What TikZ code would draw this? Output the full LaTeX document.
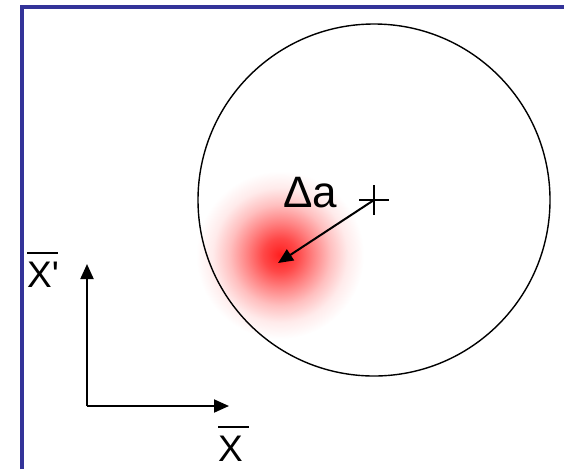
\documentclass[tikz,border=0pt]{standalone}
\usepackage{fontspec}
\setmainfont{Liberation Sans}
\usetikzlibrary{arrows.meta, positioning, calc}
\definecolor{framecol}{RGB}{51,51,153}
\pgfdeclareradialshading{redspot}{\pgfpoint{0bp}{0bp}}{color(0bp)=(red!88); color(5bp)=(red!72); color(10bp)=(red!48); color(15bp)=(red!25); color(20bp)=(red!8); color(25bp)=(white); color(50bp)=(white)}
\newcommand{\barX}{\leavevmode\rlap{\rule[0.9em]{0.84em}{1.6pt}}X}

\begin{document}
\begin{tikzpicture}[x=1pt, y=-1pt, >={Triangle[length=15pt, width=13pt]}, lab/.style={inner sep=0pt, font=\fontsize{37}{37}\selectfont}]
    \useasboundingbox (0,0) rectangle (564,469);
    \shade[shading=redspot] (280,255) circle (84);
    \coordinate (c) at (374,200);
    \coordinate (spot) at (278,263);
    \draw[line width=1.4pt] (c) circle (176);
    \draw[line width=1.3pt] ($(c)+(-15,0)$) -- ($(c)+(15,0)$) ($(c)+(0,-15)$) -- ($(c)+(0,15)$);
    \draw[->, line width=2pt] (c) -- (spot);
    \node[anchor=base, inner sep=0pt, font=\fontsize{44}{44}\selectfont] (da) at (310,207) {Δa};
    % axes
    \coordinate (o) at (87,406);
    \coordinate (xt) at (229,406);
    \coordinate (yt) at (87,264);
    \draw[->, line width=2pt] (o) -- (yt);
    \draw[->, line width=2pt] (o) -- (xt);
    \node[lab, anchor=base west] (xp) at (27,287) {\barX\textquotesingle};
    \node[lab, anchor=base west] (x) at (218,461) {\barX};
    \draw[framecol, line width=4pt] (22,469) -- (22,7) -- (564,7);
\end{tikzpicture}
\end{document}
